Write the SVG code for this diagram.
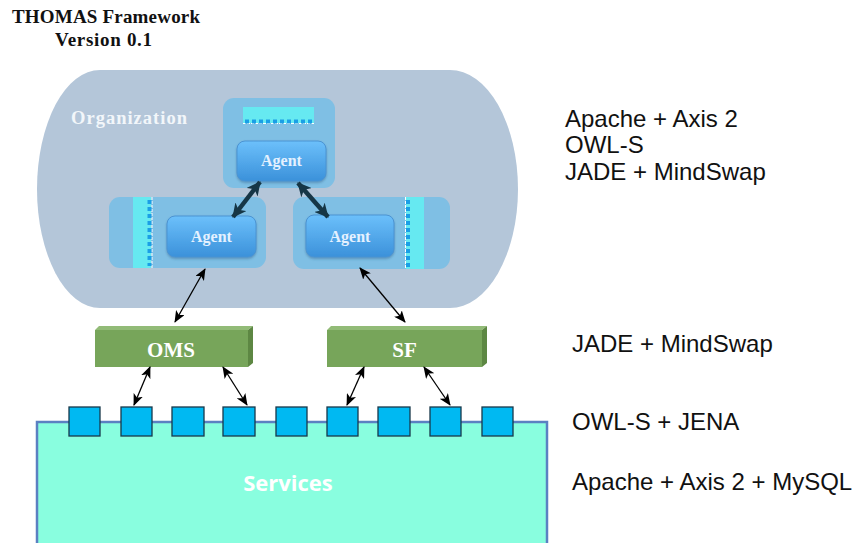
<svg xmlns="http://www.w3.org/2000/svg" width="853" height="543" viewBox="0 0 853 543">
  <defs>
    <linearGradient id="agentFill" x1="0" y1="0" x2="0" y2="1">
      <stop offset="0" stop-color="#6cc0fb"/>
      <stop offset="1" stop-color="#3b91da"/>
    </linearGradient>
    <marker id="thinHead" viewBox="0 0 12 10" refX="11" refY="5" markerWidth="12" markerHeight="10" markerUnits="userSpaceOnUse" orient="auto-start-reverse">
      <path d="M0,0 L12,5 L0,10 L3,5 Z" fill="#000"/>
    </marker>
    <marker id="thickHead" viewBox="0 0 14 14" refX="13" refY="7" markerWidth="14" markerHeight="14" markerUnits="userSpaceOnUse" orient="auto-start-reverse">
      <path d="M0,0 L14,7 L0,14 L4,7 Z" fill="#163646"/>
    </marker>
    <filter id="soft" x="-10%" y="-10%" width="120%" height="130%">
      <feDropShadow dx="0" dy="1.5" stdDeviation="1.2" flood-color="#2b5d8a" flood-opacity="0.45"/>
    </filter>
  </defs>
  <style>
    .title { font-family: "Liberation Serif", "DejaVu Serif", serif; font-weight: bold; font-size: 19px; fill: #111; }
    .side { font-family: "Liberation Sans", Arial, sans-serif; font-size: 24px; fill: #111; }
    .container { fill: #7fbfe4; }
    .strip { fill: #66e9f1; }
    .dotsH { stroke: #1a9fe6; stroke-width: 4; stroke-dasharray: 4 3; fill: none; }
    .whiteline { stroke: #ffffff; stroke-width: 1; stroke-dasharray: 3 1; fill: none; }
    .agent { fill: url(#agentFill); stroke: #4b93d2; stroke-width: 1; filter: url(#soft); }
    .agentText { font-family: "Liberation Serif", "DejaVu Serif", serif; font-weight: bold; font-size: 16px; fill: #e4f1ff; text-anchor: middle; }
    .front { fill: #77a55a; }
    .top { fill: #92bb77; }
    .side3d { fill: #5d8743; }
    .boxText { font-family: "Liberation Serif", "DejaVu Serif", serif; font-weight: bold; font-size: 21px; fill: #ffffff; text-anchor: middle; }
    .port { fill: #00b9f2; stroke: #17384a; stroke-width: 1.3; }
    .thin { stroke: #000; stroke-width: 1.3; fill: none; marker-start: url(#thinHead); marker-end: url(#thinHead); }
    .thick { stroke: #163646; stroke-width: 4.5; fill: none; marker-start: url(#thickHead); marker-end: url(#thickHead); }
  </style>

  <!-- Title -->
  <g id="title">
    <text class="title" x="12" y="23" textLength="188" lengthAdjust="spacing">THOMAS Framework</text>
    <text class="title" x="55" y="46" textLength="97" lengthAdjust="spacing">Version 0.1</text>
  </g>

  <!-- Organization area -->
  <g id="organization">
    <path d="M100,70 H450 A68,119 0 0 1 450,308 H100 A63,119 0 0 1 100,70 Z" fill="#b4c6d9"/>
    <text x="71" y="124" font-family="Liberation Serif, DejaVu Serif, serif" font-size="18.5" font-weight="bold" fill="#f2f6fa" textLength="116" lengthAdjust="spacing">Organization</text>
  </g>

  <!-- Top agent -->
  <g id="agent-top">
    <rect class="container" x="223" y="98" width="112" height="90" rx="11"/>
    <rect class="strip" x="243" y="107" width="71" height="16"/>
    <line class="whiteline" x1="243" y1="123.5" x2="314" y2="123.5"/>
    <line class="dotsH" x1="245" y1="121.5" x2="313" y2="121.5"/>
    <rect class="agent" x="237" y="141" width="89" height="40" rx="8"/>
    <text class="agentText" x="281.5" y="166">Agent</text>
  </g>

  <!-- Left agent -->
  <g id="agent-left">
    <rect class="container" x="109" y="197" width="157" height="71" rx="11"/>
    <rect class="strip" x="133" y="197" width="18" height="71"/>
    <line class="whiteline" x1="152" y1="197" x2="152" y2="268"/>
    <line class="dotsH" x1="149.5" y1="200" x2="149.5" y2="266"/>
    <rect class="agent" x="167" y="216" width="89" height="41" rx="8"/>
    <text class="agentText" x="211.5" y="242">Agent</text>
  </g>

  <!-- Right agent -->
  <g id="agent-right">
    <rect class="container" x="293" y="197" width="157" height="72" rx="11"/>
    <rect class="strip" x="406" y="197" width="18" height="72"/>
    <line class="whiteline" x1="405.5" y1="197" x2="405.5" y2="269"/>
    <line class="dotsH" x1="408" y1="200" x2="408" y2="267"/>
    <rect class="agent" x="306" y="215" width="88" height="42" rx="8"/>
    <text class="agentText" x="350" y="242">Agent</text>
  </g>

  <!-- OMS -->
  <g id="oms">
    <polygon class="top" points="95,330 99,326 253,326 248,330"/>
    <polygon class="side3d" points="248,330 253,326 253,363 248,367"/>
    <rect class="front" x="95" y="330" width="153" height="37"/>
    <text class="boxText" x="171" y="357">OMS</text>
  </g>

  <!-- SF -->
  <g id="sf">
    <polygon class="top" points="327,330 331,326 487,326 482,330"/>
    <polygon class="side3d" points="482,330 487,326 487,363 482,367"/>
    <rect class="front" x="327" y="330" width="155" height="37"/>
    <text class="boxText" x="404.5" y="357">SF</text>
  </g>

  <!-- Services -->
  <g id="services">
    <rect x="37" y="422" width="510" height="130" fill="#89fedf" stroke="#5b80c2" stroke-width="2.5"/>
    <text x="288" y="491" font-family="Open Sans, Liberation Sans, sans-serif" font-size="22" font-weight="bold" fill="#ffffff" text-anchor="middle">Services</text>
    <rect class="port" x="69" y="407" width="31" height="29"/>
    <rect class="port" x="121" y="407" width="31" height="29"/>
    <rect class="port" x="172" y="407" width="32" height="29"/>
    <rect class="port" x="223" y="407" width="32" height="29"/>
    <rect class="port" x="276" y="407" width="31" height="29"/>
    <rect class="port" x="327" y="407" width="31" height="29"/>
    <rect class="port" x="378" y="407" width="32" height="29"/>
    <rect class="port" x="430" y="407" width="31" height="29"/>
    <rect class="port" x="482" y="407" width="31" height="29"/>
  </g>

  <!-- Connectors -->
  <g id="connectors">
    <line class="thick" x1="260" y1="182" x2="233" y2="217"/>
    <line class="thick" x1="298" y1="183" x2="328" y2="217"/>
    <line class="thin" x1="205" y1="269" x2="175" y2="322"/>
    <line class="thin" x1="360" y1="268" x2="405" y2="322"/>
    <line class="thin" x1="150" y1="367" x2="134" y2="405"/>
    <line class="thin" x1="223" y1="367" x2="247" y2="405"/>
    <line class="thin" x1="364" y1="367" x2="347" y2="405"/>
    <line class="thin" x1="424" y1="367" x2="450" y2="405"/>
  </g>

  <!-- Technology labels -->
  <g id="labels">
    <text class="side" x="565" y="127">Apache + Axis 2</text>
    <text class="side" x="565" y="153">OWL-S</text>
    <text class="side" x="565" y="180">JADE + MindSwap</text>
    <text class="side" x="572" y="352">JADE + MindSwap</text>
    <text class="side" x="572" y="430">OWL-S + JENA</text>
    <text class="side" x="572" y="490">Apache + Axis 2 + MySQL</text>
  </g>
</svg>
